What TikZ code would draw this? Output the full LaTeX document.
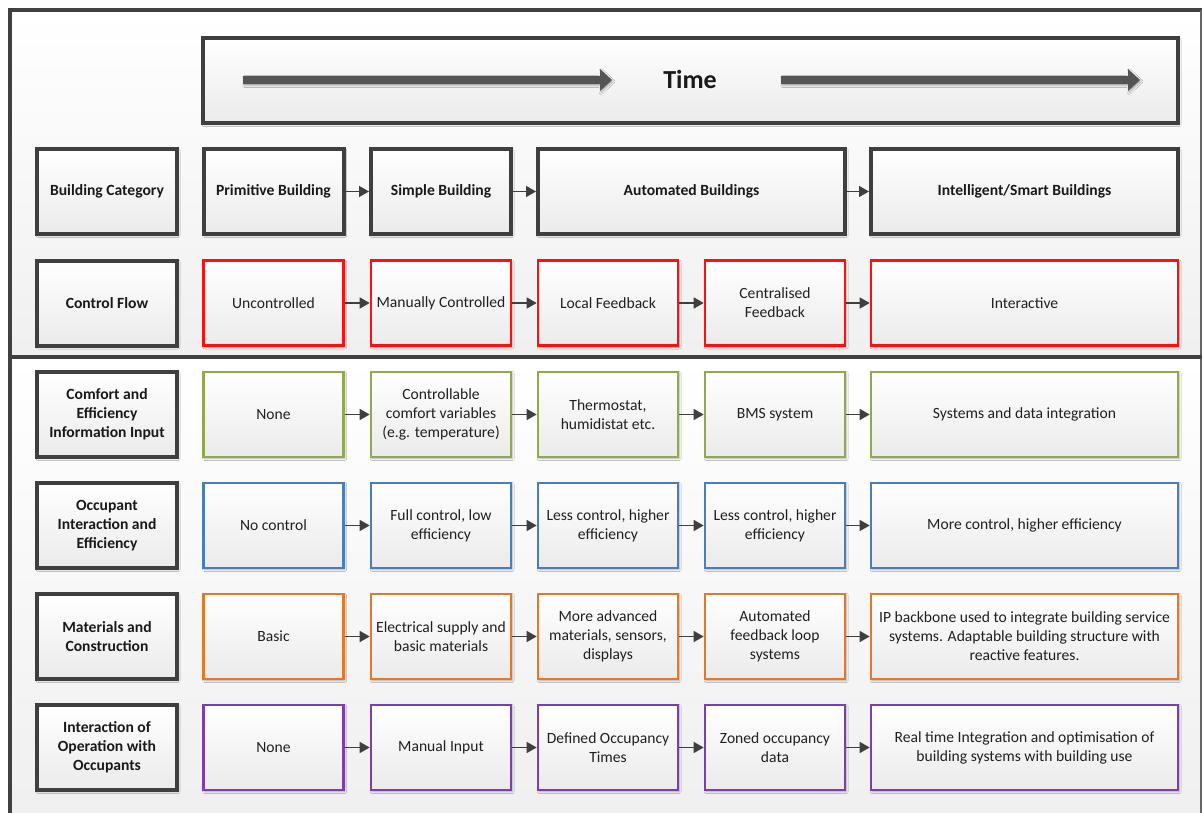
\documentclass[tikz,border=0pt]{standalone}
\usepackage{fontspec}
\setmainfont{Carlito}
\usetikzlibrary{arrows.meta,shadows.blur}
\definecolor{frameg}{HTML}{404040}
\definecolor{boxg}{HTML}{3F3F3F}
\definecolor{cfred}{HTML}{FF1010}
\definecolor{cigreen}{HTML}{8FA94E}
\definecolor{oiblue}{HTML}{4A7EBB}
\definecolor{mcorange}{HTML}{E3782A}
\definecolor{iopurple}{HTML}{7B3DB0}
\definecolor{arrg}{HTML}{555555}
\definecolor{txt}{HTML}{202020}
\tikzset{
  box/.style={rectangle, minimum width=140pt, minimum height=85pt, inner sep=2pt,
    align=center, top color=white, bottom color=black!8,
    blur shadow={shadow xshift=1.2pt, shadow yshift=-1.5pt, shadow blur steps=5, shadow blur radius=2pt, shadow opacity=30},
    font=\fontsize{15.6}{19}\selectfont, text=txt},
  lbl/.style={box, draw=boxg, line width=4pt, font=\fontsize{15.6}{19}\selectfont\bfseries, text=black!90},
  cat/.style={lbl},
  wide/.style={minimum width=307pt},
  cfbox/.style={box, draw=cfred, line width=2.6pt},
  cibox/.style={box, draw=cigreen, line width=2.6pt},
  oibox/.style={box, draw=oiblue, line width=2.6pt},
  mcbox/.style={box, draw=mcorange, line width=2.6pt},
  iobox/.style={box, draw=iopurple, line width=2.6pt},
  conn/.style={draw=boxg, line width=1.4pt, -{Triangle[length=10pt,width=11pt]}},
}
\begin{document}
\begin{tikzpicture}[x=1pt,y=-1pt]
\useasboundingbox (0,0) rectangle (1203,812);
\fill[white] (0,0) rectangle (1203,812);
\shade[top color=white, bottom color=black!6] (10,10) rectangle (1201,357);
\shade[top color=white, bottom color=black!6] (10,357) rectangle (1201,812);
% frame
\draw[frameg, line width=3.5pt] (10,813) -- (10,10) -- (1202,10);
\draw[frameg!80, line width=1.5pt] (1201,10) -- (1201,813);
\draw[frameg, line width=3.5pt] (10,357) -- (1202,357);

% Time box
\node[box, draw=boxg, line width=3.5pt, minimum width=975pt, minimum height=85pt] (time) at (690.5,80.5) {};
\node[font=\fontsize{26}{30}\selectfont\bfseries, text=black!90] (timelbl) at (690,79) {Time};
\coordinate (a1s) at (243,80);
\coordinate (a1e) at (612,80);
\coordinate (a2s) at (781,80);
\coordinate (a2e) at (1140,80);
\fill[arrg, blur shadow={shadow xshift=1pt, shadow yshift=-1.5pt, shadow opacity=30}]
  ([yshift=-4]a1s) -- ([xshift=-12,yshift=-4]a1e) -- ([xshift=-12,yshift=-11]a1e) -- (a1e)
  -- ([xshift=-12,yshift=11]a1e) -- ([xshift=-12,yshift=4]a1e) -- ([yshift=4]a1s) -- cycle;
\fill[arrg, blur shadow={shadow xshift=1pt, shadow yshift=-1.5pt, shadow opacity=30}]
  ([yshift=-4]a2s) -- ([xshift=-12,yshift=-4]a2e) -- ([xshift=-12,yshift=-11]a2e) -- (a2e)
  -- ([xshift=-12,yshift=11]a2e) -- ([xshift=-12,yshift=4]a2e) -- ([yshift=4]a2s) -- cycle;

% Row 1: Building category
\node[lbl] (bcL) at (107,191.5) {Building Category};
\node[cat] (bc1) at (273.5,191.5) {Primitive Building};
\node[cat] (bc2) at (441,191.5) {Simple Building};
\node[cat, wide] (bc3) at (691.5,191.5) {Automated Buildings};
\node[cat, wide] (bc5) at (1024.5,191.5) {Intelligent/Smart Buildings};
\draw[conn] (bc1) -- (bc2);
\draw[conn] (bc2) -- (bc3);
\draw[conn] (bc3) -- (bc5);

% Row 2: Control flow
\node[lbl] (cfL) at (107,303) {Control Flow};
\node[cfbox] (cf1) at (273.5,303) {Uncontrolled};
\node[cfbox] (cf2) at (441,303) {Manually Controlled};
\node[cfbox] (cf3) at (608,303) {Local Feedback};
\node[cfbox] (cf4) at (775,303) {Centralised\\Feedback};
\node[cfbox, wide] (cf5) at (1024.5,303) {Interactive};
\draw[conn] (cf1) -- (cf2);
\draw[conn] (cf2) -- (cf3);
\draw[conn] (cf3) -- (cf4);
\draw[conn] (cf4) -- (cf5);

% Row 3: Comfort and efficiency
\node[lbl] (ciL) at (107,414.5) {Comfort and\\Efficiency\\Information Input};
\node[cibox] (ci1) at (273.5,414.5) {None};
\node[cibox] (ci2) at (441,414.5) {Controllable\\comfort variables\\(e.g. temperature)};
\node[cibox] (ci3) at (608,414.5) {Thermostat,\\humidistat etc.};
\node[cibox] (ci4) at (775,414.5) {BMS system};
\node[cibox, wide] (ci5) at (1024.5,414.5) {Systems and data integration};
\draw[conn] (ci1) -- (ci2);
\draw[conn] (ci2) -- (ci3);
\draw[conn] (ci3) -- (ci4);
\draw[conn] (ci4) -- (ci5);

% Row 4: Occupant interaction
\node[lbl] (oiL) at (107,525.5) {Occupant\\Interaction and\\Efficiency};
\node[oibox] (oi1) at (273.5,525.5) {No control};
\node[oibox] (oi2) at (441,525.5) {Full control, low\\efficiency};
\node[oibox] (oi3) at (608,525.5) {Less control, higher\\efficiency};
\node[oibox] (oi4) at (775,525.5) {Less control, higher\\efficiency};
\node[oibox, wide] (oi5) at (1024.5,525.5) {More control, higher efficiency};
\draw[conn] (oi1) -- (oi2);
\draw[conn] (oi2) -- (oi3);
\draw[conn] (oi3) -- (oi4);
\draw[conn] (oi4) -- (oi5);

% Row 5: Materials
\node[lbl] (mcL) at (107,636.5) {Materials and\\Construction};
\node[mcbox] (mc1) at (273.5,636.5) {Basic};
\node[mcbox] (mc2) at (441,636.5) {Electrical supply and\\basic materials};
\node[mcbox] (mc3) at (608,636.5) {More advanced\\materials, sensors,\\displays};
\node[mcbox] (mc4) at (775,636.5) {Automated\\feedback loop\\systems};
\node[mcbox, wide] (mc5) at (1024.5,636.5) {IP backbone used to integrate building service\\systems. Adaptable building structure with\\reactive features.};
\draw[conn] (mc1) -- (mc2);
\draw[conn] (mc2) -- (mc3);
\draw[conn] (mc3) -- (mc4);
\draw[conn] (mc4) -- (mc5);

% Row 6: Interaction of operation
\node[lbl] (ioL) at (107,747.5) {Interaction of\\Operation with\\Occupants};
\node[iobox] (io1) at (273.5,747.5) {None};
\node[iobox] (io2) at (441,747.5) {Manual Input};
\node[iobox] (io3) at (608,747.5) {Defined Occupancy\\Times};
\node[iobox] (io4) at (775,747.5) {Zoned occupancy\\data};
\node[iobox, wide] (io5) at (1024.5,747.5) {Real time Integration and optimisation of\\building systems with building use};
\draw[conn] (io1) -- (io2);
\draw[conn] (io2) -- (io3);
\draw[conn] (io3) -- (io4);
\draw[conn] (io4) -- (io5);
\end{tikzpicture}
\end{document}
